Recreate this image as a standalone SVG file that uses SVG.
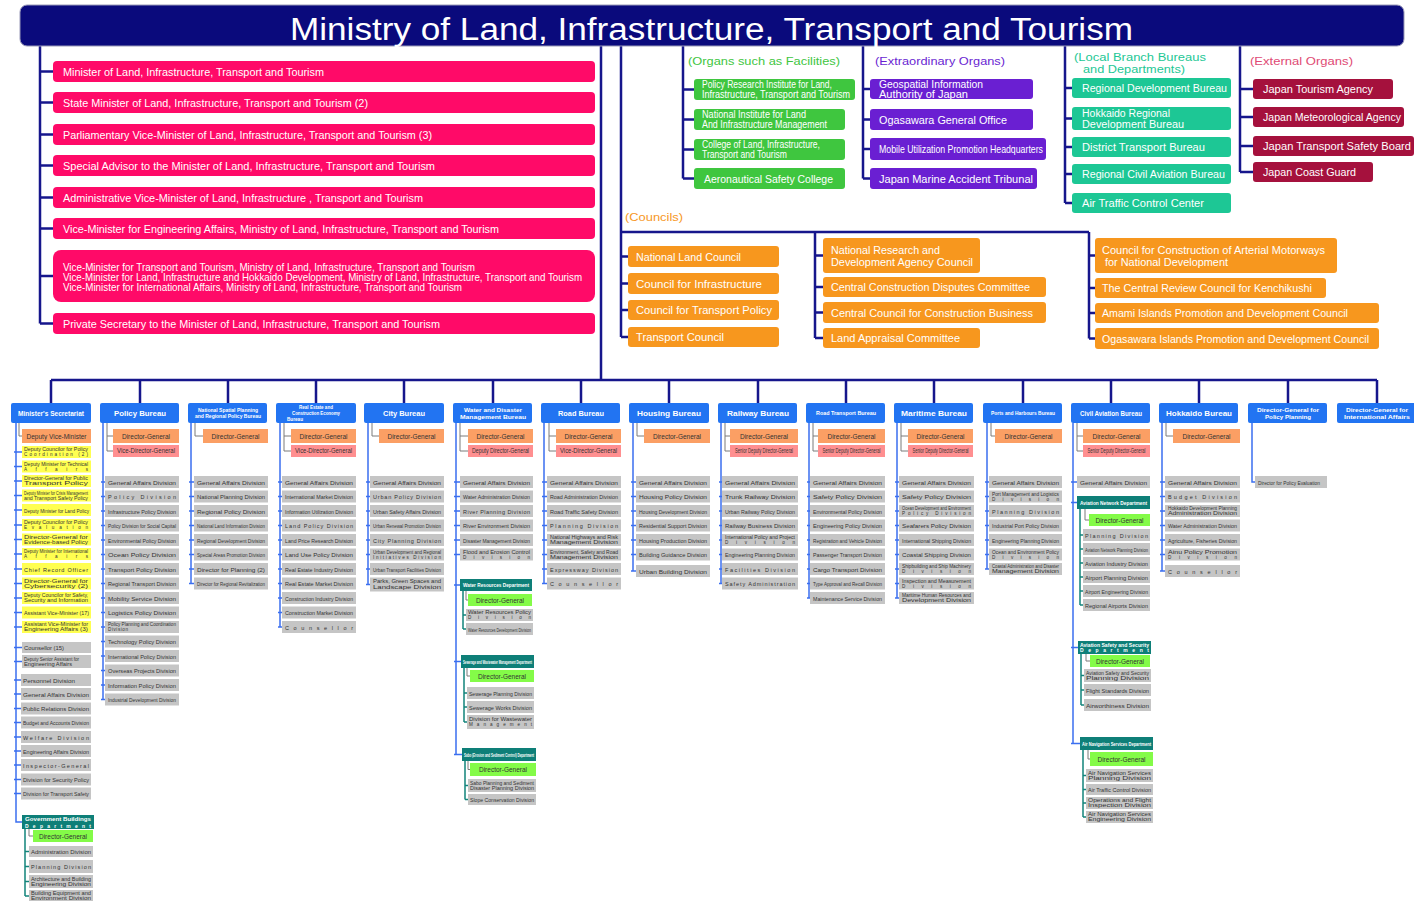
<svg xmlns="http://www.w3.org/2000/svg" width="1414" height="901" viewBox="0 0 1414 901">
<style>
text{font-family:"Liberation Sans",Arial,Helvetica,sans-serif}
.nv{stroke:#16168c;stroke-width:2.5;fill:none}
.bl{stroke:#3b6ff0;stroke-width:1.5;fill:none}
.gy{stroke:#7a7a7a;stroke-width:1;fill:none}
.tl{stroke:#12847b;stroke-width:1.5;fill:none}
.pk{fill:#ff0a68}
.gr{fill:#3fc63f}
.pu{fill:#6a1fd2}
.lc{fill:#1dc795}
.cr{fill:#a5113d}
.or{fill:#f7971e}
.bu{fill:#2274f2}
.dg{fill:#fb9f64}
.vd{fill:#ff8f90}
.dv{fill:#c5c5c5}
.ye{fill:#ffff50}
.te{fill:#0e7f78}
.lg{fill:#84fb48}
.w{fill:#fff;font-size:10.5px}
.b{fill:#fff;font-weight:bold;text-anchor:middle}
.s{fill:#333;font-size:5.5px}
.s2{fill:#333;font-size:4.6px}
.d{fill:#333;font-size:6.5px;text-anchor:middle}
.tw{fill:#fff;font-weight:bold;font-size:5px}
.lb{font-size:11px}
</style>
<rect width="1414" height="901" fill="#fff"/>
<g id="connectors">
<path class="nv" d="M40,46V323.5M40,71.5H53M40,102.5H53M40,134.5H53M40,165.5H53M40,197.5H53M40,228.5H53M40,276H53M40,323.5H53"/>
<path class="nv" d="M601,46V380M51,380H1377M51,380V403M140,380V403M228,380V403M316,380V403M404,380V403M493,380V403M581,380V403M669,380V403M758,380V403M846,380V403M934,380V403M1023,380V403M1111,380V403M1199,380V403M1288,380V403M1377,380V403"/>
<path class="nv" d="M621,46V337M621,256.5H628M621,283.5H628M621,310H628M621,337H628M621,232H1089M815,232V338M815,255.5H823M815,287H823M815,312.5H823M815,338H823M1089,232V338.5M1089,255.5H1095M1089,288H1095M1089,313H1095M1089,338.5H1095"/>
<path class="nv" d="M683,46V178.5M683,89.5H694M683,119.5H694M683,149.5H694M683,178.5H694"/>
<path class="nv" d="M863,46V178.5M863,89H870M863,119.5H870M863,149H870M863,178.5H870"/>
<path class="nv" d="M1065,46V203M1065,88H1072M1065,118.5H1072M1065,147H1072M1065,174H1072M1065,203H1072"/>
<path class="nv" d="M1240,46V172M1240,89H1253M1240,117H1253M1240,146H1253M1240,172H1253"/>
<path class="bl" d="M16,423V822H22M14,452H22M14,466.5H22M14,481H22M14,495.5H22M14,510H22M14,525H22M14,539.5H22M14,554H22M14,569H22M14,583.5H22M14,598H22M14,612.5H22M14,627H22M14,647.5H22M14,661.5H22M14,680H21M14,694H21M14,708.5H21M14,722.5H21M14,737H21M14,751H21M14,765H21M14,779.5H21M14,793.5H21"/>
<path class="gy" d="M19,423V436H22M29,829V836H33"/>
<path class="tl" d="M25,829V896M25,851.5H29M25,866.5H29M25,881.5H29M25,896H29"/>
<path class="bl" d="M103,423V699.5M101,482H105M101,496.5H105M101,511H105M101,525.5H105M101,540H105M101,554.5H105M101,569H105M101,583.5H105M101,598H105M101,612.5H105M101,627H105M101,641.5H105M101,656H105M101,670.5H105M101,685H105M101,699.5H105"/>
<path class="gy" d="M107,423V451H113M107,436H113"/>
<path class="bl" d="M191,423V583.5M189,482H194M189,496.5H194M189,511H194M189,525.5H194M189,540H194M189,554.5H194M189,569H194M189,583.5H194"/>
<path class="gy" d="M195,423V436H203"/>
<path class="bl" d="M280,423V627M278,482H282M278,496.5H282M278,511H282M278,525.5H282M278,540H282M278,554.5H282M278,569H282M278,583.5H282M278,598H282M278,612.5H282M278,627H282"/>
<path class="gy" d="M284,423V451H291M284,436H291"/>
<path class="bl" d="M368,423V584.5M366,482H370M366,496.5H370M366,511H370M366,525.5H370M366,540H370M366,554.5H370M366,569H370M366,584.5H370"/>
<path class="gy" d="M372,423V436H379"/>
<path class="bl" d="M456,423V754.5M454,482H460M454,496.5H460M454,511H460M454,525.5H460M454,540H460M454,554.5H460M454,585H460M454,661.5H461M454,754.5H462"/>
<path class="gy" d="M460,423V451H468M460,436H468M466,591V600H468M467,668V676H470M468,761V769.5H470"/>
<path class="tl" d="M463,591V629M463,615H466M463,629H466M464,668V722M464,693H467M464,707H467M464,722H467M465,761V799.5M465,785.5H468M465,799.5H468"/>
<path class="bl" d="M544,423V583.5M542,482H547M542,496.5H547M542,511H547M542,525.5H547M542,540H547M542,554.5H547M542,569H547M542,583.5H547"/>
<path class="gy" d="M549,423V451H556M549,436H556"/>
<path class="bl" d="M633,423V571M631,482H636M631,496.5H636M631,511H636M631,525.5H636M631,540H636M631,554.5H636M631,571H636"/>
<path class="gy" d="M637,423V436H644"/>
<path class="bl" d="M721,423V583.5M719,482H722M719,496.5H722M719,511H722M719,525.5H722M719,540H722M719,554.5H722M719,569H722M719,583.5H722"/>
<path class="gy" d="M725,423V451H730M725,436H730"/>
<path class="bl" d="M809,423V598M807,482H810M807,496.5H810M807,511H810M807,525.5H810M807,540H810M807,554.5H810M807,569H810M807,583.5H810M807,598H810"/>
<path class="gy" d="M813,423V451H818M813,436H818"/>
<path class="bl" d="M897,423V598M895,482H899M895,496.5H899M895,511H899M895,525.5H899M895,540H899M895,554.5H899M895,569H899M895,583.5H899M895,598H899"/>
<path class="gy" d="M901,423V451H908M901,436H908"/>
<path class="bl" d="M987,423V569M985,482H989M985,496.5H989M985,511H989M985,525.5H989M985,540H989M985,554.5H989M985,569H989"/>
<path class="gy" d="M991,423V436H995"/>
<path class="bl" d="M1073,423V743.5M1071,482H1077M1071,502.5H1077M1071,647.5H1078M1071,743.5H1080"/>
<path class="gy" d="M1077,423V451H1083M1077,436H1083M1085,509V520H1089M1086,654V661H1090M1088,750V759H1090"/>
<path class="tl" d="M1080,509V605M1080,535H1083M1080,549H1083M1080,563H1083M1080,577H1083M1080,591H1083M1080,605H1083M1081,654V705M1081,675.5H1084M1081,690H1084M1081,705H1084M1083,750V817M1083,775.5H1086M1083,789.5H1086M1083,803H1086M1083,817H1086"/>
<path class="bl" d="M1162,423V571M1160,482H1165M1160,496.5H1165M1160,511H1165M1160,525.5H1165M1160,540H1165M1160,554.5H1165M1160,571H1165"/>
<path class="gy" d="M1166,423V436H1173"/>
<path class="bl" d="M1252,423V482H1255"/>
</g>

<g id="title"><rect x="20" y="5" width="1384" height="41" rx="7" fill="#0a0a7c" stroke="#9a9ab8" stroke-width="1"/><text x="290" y="40" font-size="31" fill="#fff" textLength="843" lengthAdjust="spacingAndGlyphs">Ministry of Land, Infrastructure, Transport and Tourism</text></g>

<g id="n-minister"><rect class="pk" x="53" y="61" width="542" height="21" rx="4"/><text class="w lb" x="63" y="75.5" textLength="261" lengthAdjust="spacingAndGlyphs">Minister of Land, Infrastructure, Transport and Tourism</text></g>
<g id="n-state-minister"><rect class="pk" x="53" y="92" width="542" height="21" rx="4"/><text class="w lb" x="63" y="106.5" textLength="305" lengthAdjust="spacingAndGlyphs">State Minister of Land, Infrastructure, Transport and Tourism (2)</text></g>
<g id="n-parl-vice"><rect class="pk" x="53" y="124" width="542" height="21" rx="4"/><text class="w lb" x="63" y="138.5" textLength="369" lengthAdjust="spacingAndGlyphs">Parliamentary Vice-Minister of Land, Infrastructure, Transport and Tourism (3)</text></g>
<g id="n-special-advisor"><rect class="pk" x="53" y="155" width="542" height="21" rx="4"/><text class="w lb" x="63" y="169.5" textLength="372" lengthAdjust="spacingAndGlyphs">Special Advisor to the  Minister of Land, Infrastructure, Transport and Tourism</text></g>
<g id="n-admin-vice"><rect class="pk" x="53" y="187" width="542" height="21" rx="4"/><text class="w lb" x="63" y="201.5" textLength="360" lengthAdjust="spacingAndGlyphs">Administrative Vice-Minister of Land, Infrastructure , Transport and Tourism</text></g>
<g id="n-vice-eng"><rect class="pk" x="53" y="218" width="542" height="21" rx="4"/><text class="w lb" x="63" y="232.5" textLength="436" lengthAdjust="spacingAndGlyphs">Vice-Minister for Engineering Affairs, Ministry of Land, Infrastructure, Transport and Tourism</text></g>
<g id="n-vice-three"><rect class="pk" x="53" y="250" width="542" height="52" rx="8"/><text class="w lb" x="63" y="271" textLength="412" lengthAdjust="spacingAndGlyphs">Vice-Minister for Transport and Tourism, Ministry of Land, Infrastructure, Transport and Tourism</text><text class="w lb" x="63" y="281" textLength="519" lengthAdjust="spacingAndGlyphs">Vice-Minister for Land, Infrastructure and Hokkaido Development, Ministry of Land, Infrastructure, Transport and Tourism</text><text class="w lb" x="63" y="291" textLength="399" lengthAdjust="spacingAndGlyphs">Vice-Minister for International Affairs, Ministry of Land, Infrastructure, Transport and Tourism</text></g>
<g id="n-private-sec"><rect class="pk" x="53" y="313" width="542" height="21" rx="4"/><text class="w lb" x="63" y="327.5" textLength="377" lengthAdjust="spacingAndGlyphs">Private Secretary to the Minister of Land, Infrastructure, Transport and Tourism</text></g>

<g id="lbl-facilities"><text x="688" y="65" font-size="11" fill="#3fc63f" textLength="152" lengthAdjust="spacingAndGlyphs">(Organs such as Facilities)</text></g>
<g id="n-f1"><rect class="gr" x="694" y="79" width="161" height="21" rx="3"/><text class="w" x="702" y="88" style="font-size:10px" textLength="130" lengthAdjust="spacingAndGlyphs">Policy Research Institute for Land,</text><text class="w" x="702" y="98" style="font-size:10px" textLength="148" lengthAdjust="spacingAndGlyphs">Infrastructure, Transport and Tourism</text></g>
<g id="n-f2"><rect class="gr" x="694" y="109" width="151" height="21" rx="3"/><text class="w" x="702" y="118" style="font-size:10px" textLength="104" lengthAdjust="spacingAndGlyphs">National Institute for Land</text><text class="w" x="702" y="128" style="font-size:10px" textLength="125" lengthAdjust="spacingAndGlyphs">And Infrastructure Management</text></g>
<g id="n-f3"><rect class="gr" x="694" y="139" width="151" height="21" rx="3"/><text class="w" x="702" y="148" style="font-size:10px" textLength="118" lengthAdjust="spacingAndGlyphs">College of Land, Infrastructure,</text><text class="w" x="702" y="158" style="font-size:10px" textLength="85" lengthAdjust="spacingAndGlyphs">Transport and Tourism</text></g>
<g id="n-f4"><rect class="gr" x="694" y="168" width="151" height="21" rx="3"/><text class="w" x="704" y="182.5" textLength="129" lengthAdjust="spacingAndGlyphs">Aeronautical Safety College</text></g>

<g id="lbl-extra"><text x="875" y="65" font-size="11" fill="#6a1fd2" textLength="130" lengthAdjust="spacingAndGlyphs">(Extraordinary Organs)</text></g>
<g id="n-e1"><rect class="pu" x="870" y="79" width="163" height="20" rx="3"/><text class="w" x="879" y="88" style="font-size:10px" textLength="104" lengthAdjust="spacingAndGlyphs">Geospatial Information</text><text class="w" x="879" y="98" style="font-size:10px" textLength="89" lengthAdjust="spacingAndGlyphs">Authority of Japan</text></g>
<g id="n-e2"><rect class="pu" x="870" y="109" width="163" height="21" rx="3"/><text class="w" x="879" y="123.5" textLength="128" lengthAdjust="spacingAndGlyphs">Ogasawara General Office</text></g>
<g id="n-e3"><rect class="pu" x="870" y="138" width="176" height="22" rx="3"/><text class="w" x="879" y="153" textLength="164" lengthAdjust="spacingAndGlyphs">Mobile Utilization Promotion Headquarters</text></g>
<g id="n-e4"><rect class="pu" x="870" y="168" width="167" height="21" rx="3"/><text class="w" x="879" y="182.5" textLength="154" lengthAdjust="spacingAndGlyphs">Japan Marine Accident Tribunal</text></g>

<g id="lbl-local"><text x="1074" y="61" font-size="11" fill="#1dc795" textLength="132" lengthAdjust="spacingAndGlyphs">(Local Branch Bureaus</text><text x="1083" y="73" font-size="11" fill="#1dc795" textLength="102" lengthAdjust="spacingAndGlyphs">and Departments)</text></g>
<g id="n-l1"><rect class="lc" x="1072" y="78" width="159" height="20" rx="3"/><text class="w" x="1082" y="92" textLength="145" lengthAdjust="spacingAndGlyphs">Regional Development Bureau</text></g>
<g id="n-l2"><rect class="lc" x="1072" y="107" width="159" height="23" rx="3"/><text class="w" x="1082" y="117" style="font-size:10px" textLength="88" lengthAdjust="spacingAndGlyphs">Hokkaido Regional</text><text class="w" x="1082" y="127.5" style="font-size:10px" textLength="102" lengthAdjust="spacingAndGlyphs">Development Bureau</text></g>
<g id="n-l3"><rect class="lc" x="1072" y="137" width="159" height="20" rx="3"/><text class="w" x="1082" y="151" textLength="123" lengthAdjust="spacingAndGlyphs">District Transport Bureau</text></g>
<g id="n-l4"><rect class="lc" x="1072" y="164" width="159" height="20" rx="3"/><text class="w" x="1082" y="178" textLength="143" lengthAdjust="spacingAndGlyphs">Regional Civil Aviation Bureau</text></g>
<g id="n-l5"><rect class="lc" x="1072" y="193" width="159" height="20" rx="3"/><text class="w" x="1082" y="207" textLength="122" lengthAdjust="spacingAndGlyphs">Air Traffic Control Center</text></g>

<g id="lbl-external"><text x="1250" y="65" font-size="11" fill="#e04a74" textLength="103" lengthAdjust="spacingAndGlyphs">(External Organs)</text></g>
<g id="n-x1"><rect class="cr" x="1253" y="79" width="140" height="20" rx="3"/><text class="w" x="1263" y="93" textLength="110" lengthAdjust="spacingAndGlyphs">Japan Tourism Agency</text></g>
<g id="n-x2"><rect class="cr" x="1253" y="107" width="151" height="20" rx="3"/><text class="w" x="1263" y="121" textLength="138" lengthAdjust="spacingAndGlyphs">Japan Meteorological Agency</text></g>
<g id="n-x3"><rect class="cr" x="1253" y="136" width="161" height="20" rx="3"/><text class="w" x="1263" y="150" textLength="148" lengthAdjust="spacingAndGlyphs">Japan Transport Safety Board</text></g>
<g id="n-x4"><rect class="cr" x="1253" y="162" width="120" height="20" rx="3"/><text class="w" x="1263" y="176" textLength="93" lengthAdjust="spacingAndGlyphs">Japan Coast Guard</text></g>

<g id="lbl-councils"><text x="625" y="221" font-size="11" fill="#f7971e" textLength="58" lengthAdjust="spacingAndGlyphs">(Councils)</text></g>
<g id="n-c1"><rect class="or" x="628" y="246" width="151" height="21" rx="3"/><text class="w" x="636" y="260.5" textLength="105" lengthAdjust="spacingAndGlyphs">National Land Council</text></g>
<g id="n-c2"><rect class="or" x="628" y="273" width="151" height="21" rx="3"/><text class="w" x="636" y="287.5" textLength="126" lengthAdjust="spacingAndGlyphs">Council for Infrastructure</text></g>
<g id="n-c3"><rect class="or" x="628" y="300" width="151" height="20" rx="3"/><text class="w" x="636" y="314" textLength="136" lengthAdjust="spacingAndGlyphs">Council for Transport Policy</text></g>
<g id="n-c4"><rect class="or" x="628" y="327" width="151" height="20" rx="3"/><text class="w" x="636" y="341" textLength="88" lengthAdjust="spacingAndGlyphs">Transport Council</text></g>
<g id="n-c5"><rect class="or" x="823" y="238" width="157" height="35" rx="3"/><text class="w" x="831" y="253.5" textLength="109" lengthAdjust="spacingAndGlyphs">National Research and</text><text class="w" x="831" y="266" textLength="142" lengthAdjust="spacingAndGlyphs">Development Agency Council</text></g>
<g id="n-c6"><rect class="or" x="823" y="277" width="223" height="20" rx="3"/><text class="w" x="831" y="291" textLength="199" lengthAdjust="spacingAndGlyphs">Central Construction Disputes Committee</text></g>
<g id="n-c7"><rect class="or" x="823" y="302" width="223" height="21" rx="3"/><text class="w" x="831" y="316.5" textLength="202" lengthAdjust="spacingAndGlyphs">Central Council for Construction Business</text></g>
<g id="n-c8"><rect class="or" x="823" y="328" width="157" height="20" rx="3"/><text class="w" x="831" y="342" textLength="129" lengthAdjust="spacingAndGlyphs">Land Appraisal Committee</text></g>
<g id="n-c9"><rect class="or" x="1095" y="238" width="242" height="35" rx="3"/><text class="w" x="1102" y="253.5" textLength="223" lengthAdjust="spacingAndGlyphs">Council for Construction of Arterial Motorways</text><text class="w" x="1105" y="266" textLength="123" lengthAdjust="spacingAndGlyphs">for National Development</text></g>
<g id="n-c10"><rect class="or" x="1095" y="278" width="231" height="20" rx="3"/><text class="w" x="1102" y="292" textLength="210" lengthAdjust="spacingAndGlyphs">The Central Review Council for Kenchikushi</text></g>
<g id="n-c11"><rect class="or" x="1095" y="303" width="284" height="20" rx="3"/><text class="w" x="1102" y="317" textLength="246" lengthAdjust="spacingAndGlyphs">Amami Islands Promotion and Development Council</text></g>
<g id="n-c12"><rect class="or" x="1095" y="328" width="284" height="21" rx="3"/><text class="w" x="1102" y="342.5" textLength="267" lengthAdjust="spacingAndGlyphs">Ogasawara Islands Promotion and Development Council</text></g>

<g id="bureaus">
<g id="b-secretariat"><rect class="bu" x="11" y="403" width="80" height="20" rx="2"/><text class="b" x="51" y="415.5" font-size="6.5" textLength="66" lengthAdjust="spacingAndGlyphs">Minister's Secretariat</text></g>
<g id="b-policy"><rect class="bu" x="100" y="403" width="79" height="20" rx="2"/><text class="b" x="140" y="416" font-size="8" textLength="52" lengthAdjust="spacingAndGlyphs">Policy Bureau</text></g>
<g id="b-spatial"><rect class="bu" x="188" y="403" width="79" height="20" rx="2"/><text class="b" x="228" y="411.5" font-size="5" textLength="60" lengthAdjust="spacingAndGlyphs">National Spatial Planning</text><text class="b" x="228" y="418" font-size="5" textLength="66" lengthAdjust="spacingAndGlyphs">and Regional Policy Bureau</text></g>
<g id="b-realestate"><rect class="bu" x="276" y="403" width="80" height="20" rx="2"/><text class="b" x="316" y="409" font-size="5" textLength="34" lengthAdjust="spacingAndGlyphs">Real Estate and</text><text class="b" x="316" y="414.5" font-size="5" textLength="48" lengthAdjust="spacingAndGlyphs">Construction Economy</text><text class="b" x="295" y="420.5" font-size="5" textLength="16" lengthAdjust="spacingAndGlyphs">Bureau</text></g>
<g id="b-city"><rect class="bu" x="364" y="403" width="80" height="20" rx="2"/><text class="b" x="404" y="416" font-size="8" textLength="42" lengthAdjust="spacingAndGlyphs">City Bureau</text></g>
<g id="b-water"><rect class="bu" x="453" y="403" width="79" height="20" rx="2"/><text class="b" x="493" y="411.5" font-size="6" textLength="58" lengthAdjust="spacingAndGlyphs">Water and Disaster</text><text class="b" x="493" y="419" font-size="6" textLength="66" lengthAdjust="spacingAndGlyphs">Management Bureau</text></g>
<g id="b-road"><rect class="bu" x="541" y="403" width="79" height="20" rx="2"/><text class="b" x="581" y="416" font-size="8" textLength="46" lengthAdjust="spacingAndGlyphs">Road Bureau</text></g>
<g id="b-housing"><rect class="bu" x="629" y="403" width="80" height="20" rx="2"/><text class="b" x="669" y="416" font-size="8" textLength="64" lengthAdjust="spacingAndGlyphs">Housing Bureau</text></g>
<g id="b-railway"><rect class="bu" x="718" y="403" width="79" height="20" rx="2"/><text class="b" x="758" y="416" font-size="8" textLength="62" lengthAdjust="spacingAndGlyphs">Railway Bureau</text></g>
<g id="b-roadtransport"><rect class="bu" x="806" y="403" width="79" height="20" rx="2"/><text class="b" x="846" y="415" font-size="5" textLength="60" lengthAdjust="spacingAndGlyphs">Road Transport Bureau</text></g>
<g id="b-maritime"><rect class="bu" x="894" y="403" width="79" height="20" rx="2"/><text class="b" x="934" y="416" font-size="8" textLength="66" lengthAdjust="spacingAndGlyphs">Maritime Bureau</text></g>
<g id="b-ports"><rect class="bu" x="983" y="403" width="79" height="20" rx="2"/><text class="b" x="1023" y="415" font-size="5" textLength="64" lengthAdjust="spacingAndGlyphs">Ports and Harbours Bureau</text></g>
<g id="b-aviation"><rect class="bu" x="1071" y="403" width="79" height="20" rx="2"/><text class="b" x="1111" y="415.5" font-size="6.5" textLength="62" lengthAdjust="spacingAndGlyphs">Civil Aviation Bureau</text></g>
<g id="b-hokkaido"><rect class="bu" x="1159" y="403" width="79" height="20" rx="2"/><text class="b" x="1199" y="416" font-size="7.5" textLength="66" lengthAdjust="spacingAndGlyphs">Hokkaido Bureau</text></g>
<g id="b-dg-policy"><rect class="bu" x="1248" y="403" width="79" height="20" rx="2"/><text class="b" x="1288" y="411.5" font-size="6" textLength="62" lengthAdjust="spacingAndGlyphs">Director-General for</text><text class="b" x="1288" y="419" font-size="6" textLength="46" lengthAdjust="spacingAndGlyphs">Policy Planning</text></g>
<g id="b-dg-intl"><rect class="bu" x="1337" y="403" width="80" height="20" rx="2"/><text class="b" x="1377" y="411.5" font-size="6" textLength="62" lengthAdjust="spacingAndGlyphs">Director-General for</text><text class="b" x="1377" y="419" font-size="6" textLength="66" lengthAdjust="spacingAndGlyphs">International Affairs</text></g>
</g>

<g id="col-secretariat">
<g id="s0-dvm"><rect class="dg" x="22" y="429" width="69" height="14"/><text class="d" x="56.5" y="438.5" font-size="6" textLength="60" lengthAdjust="spacingAndGlyphs">Deputy Vice-Minister</text></g>
<g id="s0-y1"><rect class="ye" x="22" y="446" width="69" height="12"/><text class="s2" x="24" y="451.2" textLength="64" lengthAdjust="spacingAndGlyphs">Deputy Councilor for Policy</text><text class="s2" x="24" y="456.4" textLength="64">Coordination (2)</text></g>
<g id="s0-y2"><rect class="ye" x="22" y="460.5" width="69" height="12"/><text class="s2" x="24" y="465.7" textLength="64" lengthAdjust="spacingAndGlyphs">Deputy Minister for Technical</text><text class="s2" x="24" y="470.9" textLength="64">Affairs</text></g>
<g id="s0-y3"><rect class="ye" x="22" y="475" width="69" height="12"/><text class="s2" x="24" y="480.2" textLength="64" lengthAdjust="spacingAndGlyphs">Director-General for Public</text><text class="s2" x="24" y="485.4" textLength="64" lengthAdjust="spacingAndGlyphs">Transport Policy</text></g>
<g id="s0-y4"><rect class="ye" x="22" y="489.5" width="69" height="12"/><text class="s2" x="24" y="494.7" font-size="4.2" textLength="64" lengthAdjust="spacingAndGlyphs">Deputy Minister for Crisis Management</text><text class="s2" x="24" y="499.9" textLength="64" lengthAdjust="spacingAndGlyphs">and Transport Safety Policy</text></g>
<g id="s0-y5"><rect class="ye" x="22" y="504" width="69" height="12"/><text class="s" x="24" y="512.5" font-size="5" textLength="65" lengthAdjust="spacingAndGlyphs">Deputy Minister for Land Policy</text></g>
<g id="s0-y6"><rect class="ye" x="22" y="519" width="69" height="12"/><text class="s2" x="24" y="524.2" textLength="64" lengthAdjust="spacingAndGlyphs">Deputy Councilor for Policy</text><text class="s2" x="24" y="529.4" textLength="64">Evaluation</text></g>
<g id="s0-y7"><rect class="ye" x="22" y="533.5" width="69" height="12"/><text class="s2" x="24" y="538.7" textLength="64" lengthAdjust="spacingAndGlyphs">Director-General for</text><text class="s2" x="24" y="543.9" textLength="64" lengthAdjust="spacingAndGlyphs">Evidence-based Policy</text></g>
<g id="s0-y8"><rect class="ye" x="22" y="548" width="69" height="12"/><text class="s2" x="24" y="553.2" textLength="64" lengthAdjust="spacingAndGlyphs">Deputy Minister for International</text><text class="s2" x="24" y="558.4" textLength="64">Affairs</text></g>
<g id="s0-y9"><rect class="ye" x="22" y="563" width="69" height="12"/><text class="s" x="24" y="571.5" font-size="6.5" textLength="64">Chief Record Officer</text></g>
<g id="s0-y10"><rect class="ye" x="22" y="577.5" width="69" height="12"/><text class="s2" x="24" y="582.7" textLength="64" lengthAdjust="spacingAndGlyphs">Director-General for</text><text class="s2" x="24" y="587.9" textLength="64" lengthAdjust="spacingAndGlyphs">Cybersecurity (2)</text></g>
<g id="s0-y11"><rect class="ye" x="22" y="592" width="69" height="12"/><text class="s2" x="24" y="597.2" textLength="64" lengthAdjust="spacingAndGlyphs">Deputy Councilor for Safety,</text><text class="s2" x="24" y="602.4" textLength="64" lengthAdjust="spacingAndGlyphs">Security and Information</text></g>
<g id="s0-y12"><rect class="ye" x="22" y="606.5" width="69" height="12"/><text class="s" x="24" y="615" font-size="5" textLength="65" lengthAdjust="spacingAndGlyphs">Assistant Vice-Minister (17)</text></g>
<g id="s0-y13"><rect class="ye" x="22" y="621" width="69" height="12"/><text class="s2" x="24" y="626.2" textLength="64" lengthAdjust="spacingAndGlyphs">Assistant Vice-Minister for</text><text class="s2" x="24" y="631.4" textLength="64" lengthAdjust="spacingAndGlyphs">Engineering Affairs (3)</text></g>
<g id="s0-g1"><rect class="dv" x="22" y="642" width="69" height="11"/><text class="s" x="24" y="650" textLength="40" lengthAdjust="spacingAndGlyphs">Counsellor (15)</text></g>
<g id="s0-g2"><rect class="dv" x="22" y="655" width="69" height="13"/><text class="s2" x="24" y="660.5" textLength="55" lengthAdjust="spacingAndGlyphs">Deputy Senior Assistant for</text><text class="s2" x="24" y="665.8" textLength="48" lengthAdjust="spacingAndGlyphs">Engineering Affairs</text></g>
<g id="s0-d1"><rect class="dv" x="21" y="674" width="70" height="12"/><text class="s" x="23" y="682.5" textLength="52" lengthAdjust="spacingAndGlyphs">Personnel Division</text></g>
<g id="s0-d2"><rect class="dv" x="21" y="688" width="70" height="12"/><text class="s" x="23" y="696.5" textLength="66" lengthAdjust="spacingAndGlyphs">General Affairs Division</text></g>
<g id="s0-d3"><rect class="dv" x="21" y="702.5" width="70" height="12"/><text class="s" x="23" y="711" textLength="66" lengthAdjust="spacingAndGlyphs">Public Relations Division</text></g>
<g id="s0-d4"><rect class="dv" x="21" y="716.5" width="70" height="12"/><text class="s" x="23" y="725" textLength="66" lengthAdjust="spacingAndGlyphs">Budget and Accounts Division</text></g>
<g id="s0-d5"><rect class="dv" x="21" y="731" width="70" height="12"/><text class="s" x="23" y="739.5" textLength="66">Welfare Division</text></g>
<g id="s0-d6"><rect class="dv" x="21" y="745" width="70" height="12"/><text class="s" x="23" y="753.5" textLength="66" lengthAdjust="spacingAndGlyphs">Engineering Affairs Division</text></g>
<g id="s0-d7"><rect class="dv" x="21" y="759" width="70" height="12"/><text class="s" x="23" y="767.5" textLength="66">Inspector-General</text></g>
<g id="s0-d8"><rect class="dv" x="21" y="773.5" width="70" height="12"/><text class="s" x="23" y="782" textLength="66" lengthAdjust="spacingAndGlyphs">Division for Security Policy</text></g>
<g id="s0-d9"><rect class="dv" x="21" y="787.5" width="70" height="12"/><text class="s" x="23" y="796" textLength="66" lengthAdjust="spacingAndGlyphs">Division for Transport Safety</text></g>
<g id="s0-gbd"><rect class="te" x="22" y="815" width="72" height="14"/><text class="tw" x="25" y="821" textLength="66" lengthAdjust="spacingAndGlyphs">Government Buildings</text><text class="tw" x="25" y="827.5" textLength="66">Department</text></g>
<g id="s0-gbd-dg"><rect class="lg" x="33" y="830" width="60" height="12"/><text class="d" x="63" y="838.8" font-size="6">Director-General</text></g>
<g id="s0-gbd-1"><rect class="dv" x="29" y="846" width="64" height="11"/><text class="s" x="31" y="854" textLength="60" lengthAdjust="spacingAndGlyphs">Administration Division</text></g>
<g id="s0-gbd-2"><rect class="dv" x="29" y="860" width="64" height="13"/><text class="s" x="31" y="869" textLength="60">Planning Division</text></g>
<g id="s0-gbd-3"><rect class="dv" x="29" y="875" width="64" height="13"/><text class="s2" x="31" y="880.5" textLength="60" lengthAdjust="spacingAndGlyphs">Architecture and Building</text><text class="s2" x="31" y="885.8" textLength="60" lengthAdjust="spacingAndGlyphs">Engineering Division</text></g>
<g id="s0-gbd-4"><rect class="dv" x="29" y="890" width="64" height="12"/><text class="s2" x="31" y="895.2" textLength="60" lengthAdjust="spacingAndGlyphs">Building Equipment and</text><text class="s2" x="31" y="900.4" textLength="60" lengthAdjust="spacingAndGlyphs">Environment Division</text></g>
</g>

<g id="col-policy">
<g id="s1-dg"><rect class="dg" x="113" y="429" width="66" height="14"/><text class="d" x="146" y="438.5">Director-General</text></g>
<g id="s1-vdg"><rect class="vd" x="113" y="445" width="66" height="12"/><text class="d" x="146" y="453.3" font-size="5.5" textLength="58" lengthAdjust="spacingAndGlyphs">Vice-Director-General</text></g>
<g id="s1-1"><rect class="dv" x="105" y="476" width="74" height="12"/><text class="s" x="108" y="484.5" textLength="68" lengthAdjust="spacingAndGlyphs">General Affairs Division</text></g>
<g id="s1-2"><rect class="dv" x="105" y="490.5" width="74" height="12"/><text class="s" x="108" y="499" textLength="68">Policy Division</text></g>
<g id="s1-3"><rect class="dv" x="105" y="505" width="74" height="12"/><text class="s" x="108" y="513.5" textLength="68" lengthAdjust="spacingAndGlyphs">Infrastructure Policy Division</text></g>
<g id="s1-4"><rect class="dv" x="105" y="519.5" width="74" height="12"/><text class="s" x="108" y="528" textLength="68" lengthAdjust="spacingAndGlyphs">Policy Division for Social Capital</text></g>
<g id="s1-5"><rect class="dv" x="105" y="534" width="74" height="12"/><text class="s" x="108" y="542.5" textLength="68" lengthAdjust="spacingAndGlyphs">Environmental Policy Division</text></g>
<g id="s1-6"><rect class="dv" x="105" y="548.5" width="74" height="12"/><text class="s" x="108" y="557" textLength="68" lengthAdjust="spacingAndGlyphs">Ocean Policy Division</text></g>
<g id="s1-7"><rect class="dv" x="105" y="563" width="74" height="12"/><text class="s" x="108" y="571.5" textLength="68" lengthAdjust="spacingAndGlyphs">Transport Policy Division</text></g>
<g id="s1-8"><rect class="dv" x="105" y="577.5" width="74" height="12"/><text class="s" x="108" y="586" textLength="68" lengthAdjust="spacingAndGlyphs">Regional Transport Division</text></g>
<g id="s1-9"><rect class="dv" x="105" y="592" width="74" height="12"/><text class="s" x="108" y="600.5" textLength="68" lengthAdjust="spacingAndGlyphs">Mobility Service Division</text></g>
<g id="s1-10"><rect class="dv" x="105" y="606.5" width="74" height="12"/><text class="s" x="108" y="615" textLength="68" lengthAdjust="spacingAndGlyphs">Logistics Policy Division</text></g>
<g id="s1-11"><rect class="dv" x="105" y="621" width="74" height="12"/><text class="s2" x="108" y="626.2" textLength="68" lengthAdjust="spacingAndGlyphs">Policy Planning and Coordination</text><text class="s2" x="108" y="631.4" textLength="20">Division</text></g>
<g id="s1-12"><rect class="dv" x="105" y="635.5" width="74" height="12"/><text class="s" x="108" y="644" textLength="68" lengthAdjust="spacingAndGlyphs">Technology Policy Division</text></g>
<g id="s1-13"><rect class="dv" x="105" y="650" width="74" height="12"/><text class="s" x="108" y="658.5" textLength="68" lengthAdjust="spacingAndGlyphs">International Policy Division</text></g>
<g id="s1-14"><rect class="dv" x="105" y="664.5" width="74" height="12"/><text class="s" x="108" y="673" textLength="68" lengthAdjust="spacingAndGlyphs">Overseas Projects Division</text></g>
<g id="s1-15"><rect class="dv" x="105" y="679" width="74" height="12"/><text class="s" x="108" y="687.5" textLength="68" lengthAdjust="spacingAndGlyphs">Information Policy Division</text></g>
<g id="s1-16"><rect class="dv" x="105" y="693.5" width="74" height="12"/><text class="s" x="108" y="702" textLength="68" lengthAdjust="spacingAndGlyphs">Industrial Development Division</text></g>
</g>

<g id="col-spatial">
<g id="s2-dg"><rect class="dg" x="203" y="429" width="65" height="14"/><text class="d" x="235.5" y="438.5">Director-General</text></g>
<g id="s2-1"><rect class="dv" x="194" y="476" width="74" height="12"/><text class="s" x="197" y="484.5" textLength="68" lengthAdjust="spacingAndGlyphs">General Affairs Division</text></g>
<g id="s2-2"><rect class="dv" x="194" y="490.5" width="74" height="12"/><text class="s" x="197" y="499" textLength="68" lengthAdjust="spacingAndGlyphs">National Planning Division</text></g>
<g id="s2-3"><rect class="dv" x="194" y="505" width="74" height="12"/><text class="s" x="197" y="513.5" textLength="68" lengthAdjust="spacingAndGlyphs">Regional Policy Division</text></g>
<g id="s2-4"><rect class="dv" x="194" y="519.5" width="74" height="12"/><text class="s" x="197" y="528" textLength="68" lengthAdjust="spacingAndGlyphs">National Land Information Division</text></g>
<g id="s2-5"><rect class="dv" x="194" y="534" width="74" height="12"/><text class="s" x="197" y="542.5" textLength="68" lengthAdjust="spacingAndGlyphs">Regional Development Division</text></g>
<g id="s2-6"><rect class="dv" x="194" y="548.5" width="74" height="12"/><text class="s" x="197" y="557" textLength="68" lengthAdjust="spacingAndGlyphs">Special Areas Promotion Division</text></g>
<g id="s2-7"><rect class="dv" x="194" y="563" width="74" height="12"/><text class="s" x="197" y="571.5" textLength="68" lengthAdjust="spacingAndGlyphs">Director for Planning (2)</text></g>
<g id="s2-8"><rect class="dv" x="194" y="577.5" width="74" height="12"/><text class="s" x="197" y="586" textLength="68" lengthAdjust="spacingAndGlyphs">Director for Regional Revitalization</text></g>
</g>

<g id="col-realestate">
<g id="s3-dg"><rect class="dg" x="291" y="429" width="65" height="14"/><text class="d" x="323.5" y="438.5">Director-General</text></g>
<g id="s3-vdg"><rect class="vd" x="291" y="445" width="65" height="12"/><text class="d" x="323.5" y="453.3" font-size="5.5" textLength="57" lengthAdjust="spacingAndGlyphs">Vice-Director-General</text></g>
<g id="s3-1"><rect class="dv" x="282" y="476" width="74" height="12"/><text class="s" x="285" y="484.5" textLength="68" lengthAdjust="spacingAndGlyphs">General Affairs Division</text></g>
<g id="s3-2"><rect class="dv" x="282" y="490.5" width="74" height="12"/><text class="s" x="285" y="499" textLength="68" lengthAdjust="spacingAndGlyphs">International Market Division</text></g>
<g id="s3-3"><rect class="dv" x="282" y="505" width="74" height="12"/><text class="s" x="285" y="513.5" textLength="68" lengthAdjust="spacingAndGlyphs">Information Utilization Division</text></g>
<g id="s3-4"><rect class="dv" x="282" y="519.5" width="74" height="12"/><text class="s" x="285" y="528" textLength="68">Land Policy Division</text></g>
<g id="s3-5"><rect class="dv" x="282" y="534" width="74" height="12"/><text class="s" x="285" y="542.5" textLength="68" lengthAdjust="spacingAndGlyphs">Land Price Research Division</text></g>
<g id="s3-6"><rect class="dv" x="282" y="548.5" width="74" height="12"/><text class="s" x="285" y="557" textLength="68" lengthAdjust="spacingAndGlyphs">Land Use Policy Division</text></g>
<g id="s3-7"><rect class="dv" x="282" y="563" width="74" height="12"/><text class="s" x="285" y="571.5" textLength="68" lengthAdjust="spacingAndGlyphs">Real Estate Industry Division</text></g>
<g id="s3-8"><rect class="dv" x="282" y="577.5" width="74" height="12"/><text class="s" x="285" y="586" textLength="68" lengthAdjust="spacingAndGlyphs">Real Estate Market Division</text></g>
<g id="s3-9"><rect class="dv" x="282" y="592" width="74" height="12"/><text class="s" x="285" y="600.5" textLength="68" lengthAdjust="spacingAndGlyphs">Construction Industry Division</text></g>
<g id="s3-10"><rect class="dv" x="282" y="606.5" width="74" height="12"/><text class="s" x="285" y="615" textLength="68" lengthAdjust="spacingAndGlyphs">Construction Market Division</text></g>
<g id="s3-11"><rect class="dv" x="282" y="621" width="74" height="12"/><text class="s" x="285" y="629.5" textLength="68">Counsellor</text></g>
</g>

<g id="col-city">
<g id="s4-dg"><rect class="dg" x="379" y="429" width="65" height="14"/><text class="d" x="411.5" y="438.5">Director-General</text></g>
<g id="s4-1"><rect class="dv" x="370" y="476" width="74" height="12"/><text class="s" x="373" y="484.5" textLength="68" lengthAdjust="spacingAndGlyphs">General Affairs Division</text></g>
<g id="s4-2"><rect class="dv" x="370" y="490.5" width="74" height="12"/><text class="s" x="373" y="499" textLength="68">Urban Policy Division</text></g>
<g id="s4-3"><rect class="dv" x="370" y="505" width="74" height="12"/><text class="s" x="373" y="513.5" textLength="68" lengthAdjust="spacingAndGlyphs">Urban Safety Affairs Division</text></g>
<g id="s4-4"><rect class="dv" x="370" y="519.5" width="74" height="12"/><text class="s" x="373" y="528" textLength="68" lengthAdjust="spacingAndGlyphs">Urban Renewal Promotion Division</text></g>
<g id="s4-5"><rect class="dv" x="370" y="534" width="74" height="12"/><text class="s" x="373" y="542.5" textLength="68">City Planning Division</text></g>
<g id="s4-6"><rect class="dv" x="370" y="548.5" width="74" height="12"/><text class="s2" x="373" y="553.7" textLength="68" lengthAdjust="spacingAndGlyphs">Urban Development and Regional</text><text class="s2" x="373" y="558.9" textLength="68">Initiatives Division</text></g>
<g id="s4-7"><rect class="dv" x="370" y="563" width="74" height="12"/><text class="s" x="373" y="571.5" textLength="68" lengthAdjust="spacingAndGlyphs">Urban Transport Facilities Division</text></g>
<g id="s4-8"><rect class="dv" x="370" y="577.5" width="74" height="14"/><text class="s2" x="373" y="583.2" textLength="68" lengthAdjust="spacingAndGlyphs">Parks, Green Spaces and</text><text class="s2" x="373" y="589" textLength="68" lengthAdjust="spacingAndGlyphs">Landscape Division</text></g>
</g>

<g id="col-water">
<g id="s5-dg"><rect class="dg" x="468" y="429" width="65" height="14"/><text class="d" x="500.5" y="438.5">Director-General</text></g>
<g id="s5-vdg"><rect class="vd" x="468" y="445" width="65" height="12"/><text class="d" x="500.5" y="453.3" font-size="5.5" textLength="57" lengthAdjust="spacingAndGlyphs">Deputy Director-General</text></g>
<g id="s5-1"><rect class="dv" x="460" y="476" width="73" height="12"/><text class="s" x="463" y="484.5" textLength="67" lengthAdjust="spacingAndGlyphs">General Affairs Division</text></g>
<g id="s5-2"><rect class="dv" x="460" y="490.5" width="73" height="12"/><text class="s" x="463" y="499" textLength="67" lengthAdjust="spacingAndGlyphs">Water Administration Division</text></g>
<g id="s5-3"><rect class="dv" x="460" y="505" width="73" height="12"/><text class="s" x="463" y="513.5" textLength="67">River Planning Division</text></g>
<g id="s5-4"><rect class="dv" x="460" y="519.5" width="73" height="12"/><text class="s" x="463" y="528" textLength="67" lengthAdjust="spacingAndGlyphs">River Environment Division</text></g>
<g id="s5-5"><rect class="dv" x="460" y="534" width="73" height="12"/><text class="s" x="463" y="542.5" textLength="67" lengthAdjust="spacingAndGlyphs">Disaster Management Division</text></g>
<g id="s5-6"><rect class="dv" x="460" y="548.5" width="73" height="12"/><text class="s2" x="463" y="553.7" textLength="67" lengthAdjust="spacingAndGlyphs">Flood and Erosion Control</text><text class="s2" x="463" y="558.9" textLength="67">Division</text></g>
<g id="s5-wrd"><rect class="te" x="460" y="579" width="72" height="12"/><text class="tw" x="463" y="586.8" textLength="66" lengthAdjust="spacingAndGlyphs">Water Resources Department</text></g>
<g id="s5-wrd-dg"><rect class="lg" x="468" y="594" width="64" height="12"/><text class="d" x="500" y="602.5" font-size="6">Director-General</text></g>
<g id="s5-wrd-1"><rect class="dv" x="466" y="609" width="67" height="12"/><text class="s2" x="468" y="614.2" textLength="63" lengthAdjust="spacingAndGlyphs">Water Resources Policy</text><text class="s2" x="468" y="619.4" textLength="63">Division</text></g>
<g id="s5-wrd-2"><rect class="dv" x="466" y="623" width="67" height="12"/><text class="s" x="468" y="631.5" font-size="5" textLength="63" lengthAdjust="spacingAndGlyphs">Water Resources Development Division</text></g>
<g id="s5-sew"><rect class="te" x="461" y="655" width="73" height="13"/><text class="tw" x="463" y="663.5" font-size="4.4" textLength="69" lengthAdjust="spacingAndGlyphs">Sewerage and Wastewater Management Department</text></g>
<g id="s5-sew-dg"><rect class="lg" x="470" y="670" width="64" height="12"/><text class="d" x="502" y="678.5" font-size="6">Director-General</text></g>
<g id="s5-sew-1"><rect class="dv" x="467" y="687" width="67" height="12"/><text class="s" x="469" y="695.5" textLength="63" lengthAdjust="spacingAndGlyphs">Sewerage Planning Division</text></g>
<g id="s5-sew-2"><rect class="dv" x="467" y="701" width="67" height="12"/><text class="s" x="469" y="709.5" textLength="63" lengthAdjust="spacingAndGlyphs">Sewerage Works Division</text></g>
<g id="s5-sew-3"><rect class="dv" x="467" y="715" width="67" height="14"/><text class="s2" x="469" y="720.5" textLength="63" lengthAdjust="spacingAndGlyphs">Division for Wastewater</text><text class="s2" x="469" y="726.3" textLength="63">Management</text></g>
<g id="s5-sabo"><rect class="te" x="462" y="748" width="74" height="13"/><text class="tw" x="464" y="756.5" font-size="4.4" textLength="70" lengthAdjust="spacingAndGlyphs">Sabo (Erosion and Sediment Control) Department</text></g>
<g id="s5-sabo-dg"><rect class="lg" x="470" y="763" width="66" height="13"/><text class="d" x="503" y="772" font-size="6">Director-General</text></g>
<g id="s5-sabo-1"><rect class="dv" x="468" y="779" width="68" height="13"/><text class="s2" x="470" y="784.5" textLength="64" lengthAdjust="spacingAndGlyphs">Sabo Planning and Sediment</text><text class="s2" x="470" y="789.8" textLength="64" lengthAdjust="spacingAndGlyphs">Disaster Planning Division</text></g>
<g id="s5-sabo-2"><rect class="dv" x="468" y="794" width="68" height="11"/><text class="s" x="470" y="802" textLength="64" lengthAdjust="spacingAndGlyphs">Slope Conservation Division</text></g>
</g>

<g id="col-road">
<g id="s6-dg"><rect class="dg" x="556" y="429" width="65" height="14"/><text class="d" x="588.5" y="438.5">Director-General</text></g>
<g id="s6-vdg"><rect class="vd" x="556" y="445" width="65" height="12"/><text class="d" x="588.5" y="453.3" font-size="5.5" textLength="57" lengthAdjust="spacingAndGlyphs">Vice-Director-General</text></g>
<g id="s6-1"><rect class="dv" x="547" y="476" width="74" height="12"/><text class="s" x="550" y="484.5" textLength="68" lengthAdjust="spacingAndGlyphs">General Affairs Division</text></g>
<g id="s6-2"><rect class="dv" x="547" y="490.5" width="74" height="12"/><text class="s" x="550" y="499" textLength="68" lengthAdjust="spacingAndGlyphs">Road Administration Division</text></g>
<g id="s6-3"><rect class="dv" x="547" y="505" width="74" height="12"/><text class="s" x="550" y="513.5" textLength="68" lengthAdjust="spacingAndGlyphs">Road Traffic Safety Division</text></g>
<g id="s6-4"><rect class="dv" x="547" y="519.5" width="74" height="12"/><text class="s" x="550" y="528" textLength="68">Planning Division</text></g>
<g id="s6-5"><rect class="dv" x="547" y="534" width="74" height="12"/><text class="s2" x="550" y="539.2" textLength="68" lengthAdjust="spacingAndGlyphs">National Highways and Risk</text><text class="s2" x="550" y="544.4" textLength="68" lengthAdjust="spacingAndGlyphs">Management Division</text></g>
<g id="s6-6"><rect class="dv" x="547" y="548.5" width="74" height="12"/><text class="s2" x="550" y="553.7" textLength="68" lengthAdjust="spacingAndGlyphs">Environment, Safety and Road</text><text class="s2" x="550" y="558.9" textLength="68" lengthAdjust="spacingAndGlyphs">Management Division</text></g>
<g id="s6-7"><rect class="dv" x="547" y="563" width="74" height="12"/><text class="s" x="550" y="571.5" textLength="68">Expressway Division</text></g>
<g id="s6-8"><rect class="dv" x="547" y="577.5" width="74" height="12"/><text class="s" x="550" y="586" textLength="68">Counsellor</text></g>
</g>

<g id="col-housing">
<g id="s7-dg"><rect class="dg" x="644" y="429" width="66" height="14"/><text class="d" x="677" y="438.5">Director-General</text></g>
<g id="s7-1"><rect class="dv" x="636" y="476" width="74" height="12"/><text class="s" x="639" y="484.5" textLength="68" lengthAdjust="spacingAndGlyphs">General Affairs Division</text></g>
<g id="s7-2"><rect class="dv" x="636" y="490.5" width="74" height="12"/><text class="s" x="639" y="499" textLength="68" lengthAdjust="spacingAndGlyphs">Housing Policy Division</text></g>
<g id="s7-3"><rect class="dv" x="636" y="505" width="74" height="12"/><text class="s" x="639" y="513.5" textLength="68" lengthAdjust="spacingAndGlyphs">Housing Development Division</text></g>
<g id="s7-4"><rect class="dv" x="636" y="519.5" width="74" height="12"/><text class="s" x="639" y="528" textLength="68" lengthAdjust="spacingAndGlyphs">Residential Support Division</text></g>
<g id="s7-5"><rect class="dv" x="636" y="534" width="74" height="12"/><text class="s" x="639" y="542.5" textLength="68" lengthAdjust="spacingAndGlyphs">Housing Production Division</text></g>
<g id="s7-6"><rect class="dv" x="636" y="548.5" width="74" height="12"/><text class="s" x="639" y="557" textLength="68" lengthAdjust="spacingAndGlyphs">Building Guidance Division</text></g>
<g id="s7-7"><rect class="dv" x="636" y="565" width="74" height="12"/><text class="s" x="639" y="573.5" textLength="68" lengthAdjust="spacingAndGlyphs">Urban Building Division</text></g>
</g>

<g id="col-railway">
<g id="s8-dg"><rect class="dg" x="730" y="429" width="68" height="14"/><text class="d" x="764" y="438.5">Director-General</text></g>
<g id="s8-vdg"><rect class="vd" x="730" y="445" width="68" height="12"/><text class="d" x="764" y="453" font-size="4.5" textLength="58" lengthAdjust="spacingAndGlyphs">Senior Deputy Director-General</text></g>
<g id="s8-1"><rect class="dv" x="722" y="476" width="76" height="12"/><text class="s" x="725" y="484.5" textLength="70" lengthAdjust="spacingAndGlyphs">General Affairs Division</text></g>
<g id="s8-2"><rect class="dv" x="722" y="490.5" width="76" height="12"/><text class="s" x="725" y="499" textLength="70" lengthAdjust="spacingAndGlyphs">Trunk Railway Division</text></g>
<g id="s8-3"><rect class="dv" x="722" y="505" width="76" height="12"/><text class="s" x="725" y="513.5" textLength="70" lengthAdjust="spacingAndGlyphs">Urban Railway Policy Division</text></g>
<g id="s8-4"><rect class="dv" x="722" y="519.5" width="76" height="12"/><text class="s" x="725" y="528" textLength="70" lengthAdjust="spacingAndGlyphs">Railway Business Division</text></g>
<g id="s8-5"><rect class="dv" x="722" y="534" width="76" height="12"/><text class="s2" x="725" y="539.2" textLength="70" lengthAdjust="spacingAndGlyphs">International Policy and Project</text><text class="s2" x="725" y="544.4" textLength="70">Division</text></g>
<g id="s8-6"><rect class="dv" x="722" y="548.5" width="76" height="12"/><text class="s" x="725" y="557" textLength="70" lengthAdjust="spacingAndGlyphs">Engineering Planning Division</text></g>
<g id="s8-7"><rect class="dv" x="722" y="563" width="76" height="12"/><text class="s" x="725" y="571.5" textLength="70">Facilities Division</text></g>
<g id="s8-8"><rect class="dv" x="722" y="577.5" width="76" height="12"/><text class="s" x="725" y="586" textLength="70">Safety Administration</text></g>
</g>

<g id="col-roadtransport">
<g id="s9-dg"><rect class="dg" x="818" y="429" width="67" height="14"/><text class="d" x="851.5" y="438.5">Director-General</text></g>
<g id="s9-vdg"><rect class="vd" x="818" y="445" width="67" height="12"/><text class="d" x="851.5" y="453" font-size="4.5" textLength="58" lengthAdjust="spacingAndGlyphs">Senior Deputy Director-General</text></g>
<g id="s9-1"><rect class="dv" x="810" y="476" width="75" height="12"/><text class="s" x="813" y="484.5" textLength="69" lengthAdjust="spacingAndGlyphs">General Affairs Division</text></g>
<g id="s9-2"><rect class="dv" x="810" y="490.5" width="75" height="12"/><text class="s" x="813" y="499" textLength="69" lengthAdjust="spacingAndGlyphs">Safety Policy Division</text></g>
<g id="s9-3"><rect class="dv" x="810" y="505" width="75" height="12"/><text class="s" x="813" y="513.5" textLength="69" lengthAdjust="spacingAndGlyphs">Environmental Policy Division</text></g>
<g id="s9-4"><rect class="dv" x="810" y="519.5" width="75" height="12"/><text class="s" x="813" y="528" textLength="69" lengthAdjust="spacingAndGlyphs">Engineering Policy Division</text></g>
<g id="s9-5"><rect class="dv" x="810" y="534" width="75" height="12"/><text class="s" x="813" y="542.5" textLength="69" lengthAdjust="spacingAndGlyphs">Registration and Vehicle Division</text></g>
<g id="s9-6"><rect class="dv" x="810" y="548.5" width="75" height="12"/><text class="s" x="813" y="557" textLength="69" lengthAdjust="spacingAndGlyphs">Passenger Transport Division</text></g>
<g id="s9-7"><rect class="dv" x="810" y="563" width="75" height="12"/><text class="s" x="813" y="571.5" textLength="69" lengthAdjust="spacingAndGlyphs">Cargo Transport Division</text></g>
<g id="s9-8"><rect class="dv" x="810" y="577.5" width="75" height="12"/><text class="s" x="813" y="586" textLength="69" lengthAdjust="spacingAndGlyphs">Type Approval and Recall Division</text></g>
<g id="s9-9"><rect class="dv" x="810" y="592" width="75" height="12"/><text class="s" x="813" y="600.5" textLength="69" lengthAdjust="spacingAndGlyphs">Maintenance Service Division</text></g>
</g>

<g id="col-maritime">
<g id="s10-dg"><rect class="dg" x="908" y="429" width="65" height="14"/><text class="d" x="940.5" y="438.5">Director-General</text></g>
<g id="s10-vdg"><rect class="vd" x="908" y="445" width="65" height="12"/><text class="d" x="940.5" y="453" font-size="4.5" textLength="56" lengthAdjust="spacingAndGlyphs">Senior Deputy Director-General</text></g>
<g id="s10-1"><rect class="dv" x="899" y="476" width="75" height="12"/><text class="s" x="902" y="484.5" textLength="69" lengthAdjust="spacingAndGlyphs">General Affairs Division</text></g>
<g id="s10-2"><rect class="dv" x="899" y="490.5" width="75" height="12"/><text class="s" x="902" y="499" textLength="69" lengthAdjust="spacingAndGlyphs">Safety Policy Division</text></g>
<g id="s10-3"><rect class="dv" x="899" y="505" width="75" height="12"/><text class="s2" x="902" y="510.2" textLength="69" lengthAdjust="spacingAndGlyphs">Ocean Development and Environment</text><text class="s2" x="902" y="515.4" textLength="69">Policy Division</text></g>
<g id="s10-4"><rect class="dv" x="899" y="519.5" width="75" height="12"/><text class="s" x="902" y="528" textLength="69" lengthAdjust="spacingAndGlyphs">Seafarers Policy Division</text></g>
<g id="s10-5"><rect class="dv" x="899" y="534" width="75" height="12"/><text class="s" x="902" y="542.5" textLength="69" lengthAdjust="spacingAndGlyphs">International Shipping Division</text></g>
<g id="s10-6"><rect class="dv" x="899" y="548.5" width="75" height="12"/><text class="s" x="902" y="557" textLength="69" lengthAdjust="spacingAndGlyphs">Coastal Shipping Division</text></g>
<g id="s10-7"><rect class="dv" x="899" y="563" width="75" height="12"/><text class="s2" x="902" y="568.2" textLength="69" lengthAdjust="spacingAndGlyphs">Shipbuilding and Ship Machinery</text><text class="s2" x="902" y="573.4" textLength="69">Division</text></g>
<g id="s10-8"><rect class="dv" x="899" y="577.5" width="75" height="12"/><text class="s2" x="902" y="582.7" textLength="69" lengthAdjust="spacingAndGlyphs">Inspection and Measurement</text><text class="s2" x="902" y="587.9" textLength="69">Division</text></g>
<g id="s10-9"><rect class="dv" x="899" y="592" width="75" height="12"/><text class="s2" x="902" y="597.2" textLength="69" lengthAdjust="spacingAndGlyphs">Maritime Human Resources and</text><text class="s2" x="902" y="602.4" textLength="69" lengthAdjust="spacingAndGlyphs">Development Division</text></g>
</g>

<g id="col-ports">
<g id="s11-dg"><rect class="dg" x="995" y="429" width="67" height="14"/><text class="d" x="1028.5" y="438.5">Director-General</text></g>
<g id="s11-1"><rect class="dv" x="989" y="476" width="73" height="12"/><text class="s" x="992" y="484.5" textLength="67" lengthAdjust="spacingAndGlyphs">General Affairs Division</text></g>
<g id="s11-2"><rect class="dv" x="989" y="490.5" width="73" height="12"/><text class="s2" x="992" y="495.7" textLength="67" lengthAdjust="spacingAndGlyphs">Port Management and Logistics</text><text class="s2" x="992" y="500.9" textLength="67">Division</text></g>
<g id="s11-3"><rect class="dv" x="989" y="505" width="73" height="12"/><text class="s" x="992" y="513.5" textLength="67">Planning Division</text></g>
<g id="s11-4"><rect class="dv" x="989" y="519.5" width="73" height="12"/><text class="s" x="992" y="528" textLength="67" lengthAdjust="spacingAndGlyphs">Industrial Port Policy Division</text></g>
<g id="s11-5"><rect class="dv" x="989" y="534" width="73" height="12"/><text class="s" x="992" y="542.5" textLength="67" lengthAdjust="spacingAndGlyphs">Engineering Planning Division</text></g>
<g id="s11-6"><rect class="dv" x="989" y="548.5" width="73" height="12"/><text class="s2" x="992" y="553.7" textLength="67" lengthAdjust="spacingAndGlyphs">Ocean and Environment Policy</text><text class="s2" x="992" y="558.9" textLength="67">Division</text></g>
<g id="s11-7"><rect class="dv" x="989" y="563" width="73" height="12"/><text class="s2" x="992" y="568.2" font-size="4.2" textLength="67" lengthAdjust="spacingAndGlyphs">Coastal Administration and Disaster</text><text class="s2" x="992" y="573.4" textLength="67" lengthAdjust="spacingAndGlyphs">Management Division</text></g>
</g>

<g id="col-aviation">
<g id="s12-dg"><rect class="dg" x="1083" y="429" width="67" height="14"/><text class="d" x="1116.5" y="438.5">Director-General</text></g>
<g id="s12-vdg"><rect class="vd" x="1083" y="445" width="67" height="12"/><text class="d" x="1116.5" y="453" font-size="4.5" textLength="58" lengthAdjust="spacingAndGlyphs">Senior Deputy Director-General</text></g>
<g id="s12-1"><rect class="dv" x="1077" y="476" width="73" height="12"/><text class="s" x="1080" y="484.5" textLength="67" lengthAdjust="spacingAndGlyphs">General Affairs Division</text></g>
<g id="s12-net"><rect class="te" x="1077" y="496" width="73" height="13"/><text class="tw" x="1080" y="504.5" textLength="67" lengthAdjust="spacingAndGlyphs">Aviation Network Department</text></g>
<g id="s12-net-dg"><rect class="lg" x="1089" y="514" width="61" height="12"/><text class="d" x="1119.5" y="522.5" font-size="6">Director-General</text></g>
<g id="s12-net-1"><rect class="dv" x="1083" y="529" width="67" height="12"/><text class="s" x="1085" y="537.5" textLength="63">Planning Division</text></g>
<g id="s12-net-2"><rect class="dv" x="1083" y="543" width="67" height="12"/><text class="s" x="1085" y="551.5" font-size="5" textLength="63" lengthAdjust="spacingAndGlyphs">Aviation Network Planning Division</text></g>
<g id="s12-net-3"><rect class="dv" x="1083" y="557" width="67" height="12"/><text class="s" x="1085" y="565.5" textLength="63" lengthAdjust="spacingAndGlyphs">Aviation Industry Division</text></g>
<g id="s12-net-4"><rect class="dv" x="1083" y="571" width="67" height="12"/><text class="s" x="1085" y="579.5" textLength="63" lengthAdjust="spacingAndGlyphs">Airport Planning Division</text></g>
<g id="s12-net-5"><rect class="dv" x="1083" y="585" width="67" height="12"/><text class="s" x="1085" y="593.5" textLength="63" lengthAdjust="spacingAndGlyphs">Airport Engineering Division</text></g>
<g id="s12-net-6"><rect class="dv" x="1083" y="599" width="67" height="12"/><text class="s" x="1085" y="607.5" textLength="63" lengthAdjust="spacingAndGlyphs">Regional Airports Division</text></g>
<g id="s12-saf"><rect class="te" x="1078" y="641" width="73" height="13"/><text class="tw" x="1080" y="646.8" font-size="4.6" textLength="69" lengthAdjust="spacingAndGlyphs">Aviation Safety and Security</text><text class="tw" x="1080" y="652.3" font-size="4.6" textLength="69">Department</text></g>
<g id="s12-saf-dg"><rect class="lg" x="1090" y="655" width="60" height="12"/><text class="d" x="1120" y="663.5" font-size="6">Director-General</text></g>
<g id="s12-saf-1"><rect class="dv" x="1084" y="669" width="67" height="13"/><text class="s2" x="1086" y="674.5" textLength="63" lengthAdjust="spacingAndGlyphs">Aviation Safety and Security</text><text class="s2" x="1086" y="679.8" textLength="63" lengthAdjust="spacingAndGlyphs">Planning Division</text></g>
<g id="s12-saf-2"><rect class="dv" x="1084" y="684" width="67" height="12"/><text class="s" x="1086" y="692.5" textLength="63" lengthAdjust="spacingAndGlyphs">Flight Standards Division</text></g>
<g id="s12-saf-3"><rect class="dv" x="1084" y="699" width="67" height="12"/><text class="s" x="1086" y="707.5" textLength="63" lengthAdjust="spacingAndGlyphs">Airworthiness Division</text></g>
<g id="s12-ans"><rect class="te" x="1080" y="737" width="73" height="13"/><text class="tw" x="1082" y="745.5" font-size="4.6" textLength="69" lengthAdjust="spacingAndGlyphs">Air Navigation Services Department</text></g>
<g id="s12-ans-dg"><rect class="lg" x="1090" y="752" width="63" height="14"/><text class="d" x="1121.5" y="761.5">Director-General</text></g>
<g id="s12-ans-1"><rect class="dv" x="1086" y="769" width="67" height="13"/><text class="s2" x="1088" y="774.5" textLength="63" lengthAdjust="spacingAndGlyphs">Air Navigation Services</text><text class="s2" x="1088" y="779.8" textLength="63" lengthAdjust="spacingAndGlyphs">Planning Division</text></g>
<g id="s12-ans-2"><rect class="dv" x="1086" y="784" width="67" height="11"/><text class="s" x="1088" y="792" textLength="63" lengthAdjust="spacingAndGlyphs">Air Traffic Control Division</text></g>
<g id="s12-ans-3"><rect class="dv" x="1086" y="797" width="67" height="12"/><text class="s2" x="1088" y="802.2" textLength="63" lengthAdjust="spacingAndGlyphs">Operations and Flight</text><text class="s2" x="1088" y="807.4" textLength="63" lengthAdjust="spacingAndGlyphs">Inspection Division</text></g>
<g id="s12-ans-4"><rect class="dv" x="1086" y="811" width="67" height="12"/><text class="s2" x="1088" y="816.2" textLength="63" lengthAdjust="spacingAndGlyphs">Air Navigation Services</text><text class="s2" x="1088" y="821.4" textLength="63" lengthAdjust="spacingAndGlyphs">Engineering Division</text></g>
</g>

<g id="col-hokkaido">
<g id="s13-dg"><rect class="dg" x="1173" y="429" width="67" height="14"/><text class="d" x="1206.5" y="438.5">Director-General</text></g>
<g id="s13-1"><rect class="dv" x="1165" y="476" width="75" height="12"/><text class="s" x="1168" y="484.5" textLength="69" lengthAdjust="spacingAndGlyphs">General Affairs Division</text></g>
<g id="s13-2"><rect class="dv" x="1165" y="490.5" width="75" height="12"/><text class="s" x="1168" y="499" textLength="69">Budget Division</text></g>
<g id="s13-3"><rect class="dv" x="1165" y="505" width="75" height="12"/><text class="s2" x="1168" y="510.2" textLength="69" lengthAdjust="spacingAndGlyphs">Hokkaido Development Planning</text><text class="s2" x="1168" y="515.4" textLength="69" lengthAdjust="spacingAndGlyphs">Administration Division</text></g>
<g id="s13-4"><rect class="dv" x="1165" y="519.5" width="75" height="12"/><text class="s" x="1168" y="528" textLength="69" lengthAdjust="spacingAndGlyphs">Water Administration Division</text></g>
<g id="s13-5"><rect class="dv" x="1165" y="534" width="75" height="12"/><text class="s" x="1168" y="542.5" textLength="69" lengthAdjust="spacingAndGlyphs">Agriculture, Fisheries Division</text></g>
<g id="s13-6"><rect class="dv" x="1165" y="548.5" width="75" height="12"/><text class="s2" x="1168" y="553.7" textLength="69" lengthAdjust="spacingAndGlyphs">Ainu Policy Promotion</text><text class="s2" x="1168" y="558.9" textLength="69">Division</text></g>
<g id="s13-7"><rect class="dv" x="1165" y="565" width="75" height="12"/><text class="s" x="1168" y="573.5" textLength="69">Counsellor</text></g>
</g>

<g id="col-dg-policy">
<g id="s14-1"><rect class="dv" x="1255" y="476" width="72" height="12"/><text class="s" x="1258" y="484.5" font-size="5" textLength="62" lengthAdjust="spacingAndGlyphs">Director for Policy Evaluation</text></g>
</g>
</svg>
